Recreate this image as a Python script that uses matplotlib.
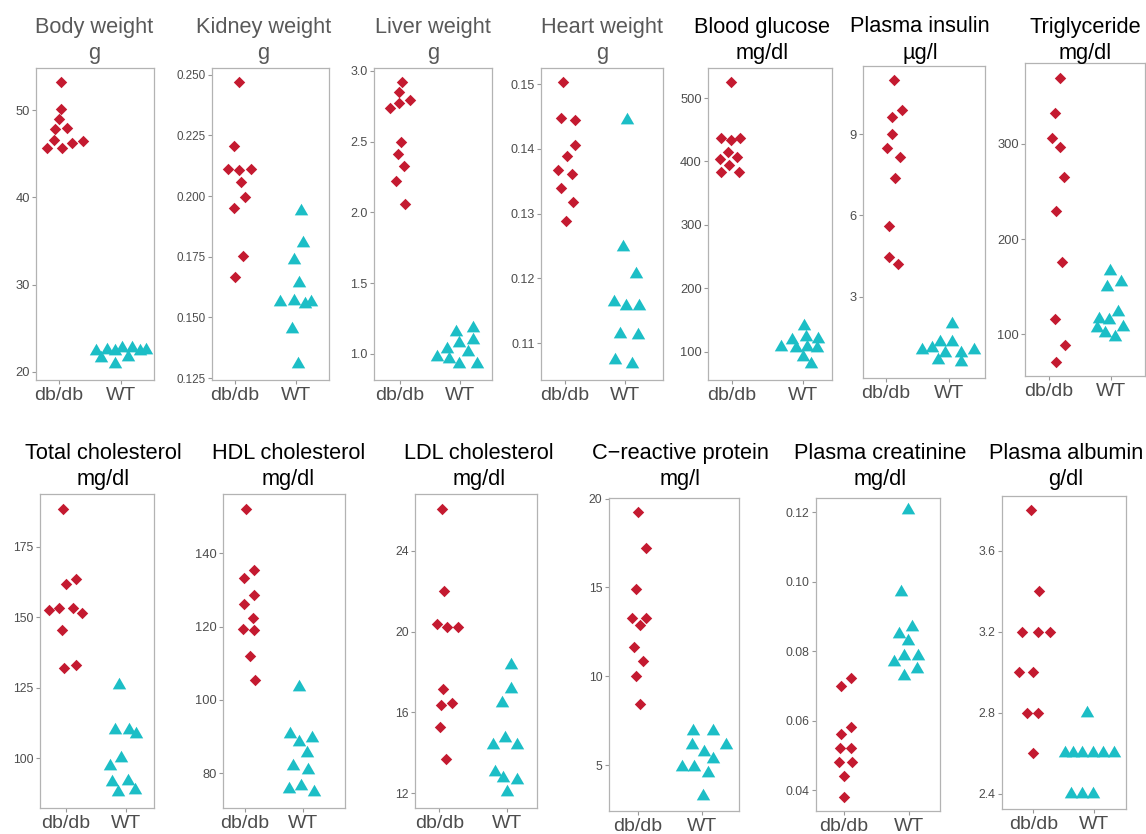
import matplotlib
matplotlib.use("Agg")
import matplotlib.pyplot as plt
import numpy as np
from matplotlib.path import Path

plt.rcParams['font.family'] = ['Liberation Sans', 'DejaVu Sans']

groups = ["db/db", "WT"]

titles = ["Body weight", "Kidney weight", "Liver weight", "Heart weight",
          "Blood glucose", "Plasma insulin", "Triglyceride",
          "Total cholesterol", "HDL cholesterol", "LDL cholesterol",
          "C\u2212reactive protein", "Plasma creatinine", "Plasma albumin"]
units = ["g", "g", "g", "g", "mg/dl", "\u00b5g/l", "mg/dl",
         "mg/dl", "mg/dl", "mg/dl", "mg/l", "mg/dl", "g/dl"]

# measured values, db/db group
body_db = [53.2, 50.1, 49.0, 47.8, 47.9, 46.6, 45.6, 45.7, 46.2, 46.4]
kidney_db = [0.247, 0.2206, 0.211, 0.2107, 0.211, 0.2057, 0.1997, 0.195, 0.1754, 0.1668]
liver_db = [2.922, 2.849, 2.776, 2.736, 2.793, 2.50, 2.41, 2.33, 2.22, 2.061]
heart_db = [0.1503, 0.1447, 0.1445, 0.1406, 0.1389, 0.1367, 0.1361, 0.134, 0.1318, 0.1288]
glucose_db = [524.8, 437.4, 433.8, 437.4, 415.3, 403.3, 407.4, 394.3, 383.8, 383.8]
insulin_db = [10.99, 9.64, 9.87, 8.99, 8.49, 8.16, 7.39, 5.59, 4.47, 4.19]
trig_db = [369, 332.2, 306.6, 297.2, 265.7, 229.9, 176.4, 115.8, 88.9, 71.3]
tc_db = [188.3, 161.9, 163.5, 152.6, 153.2, 153.2, 151.5, 145.5, 132.0, 133.2]
hdl_db = [152.1, 133.4, 135.5, 128.5, 126.3, 122.3, 119.4, 119.1, 112.1, 105.5]
ldl_db = [26.06, 22.02, 20.36, 20.21, 20.24, 17.14, 16.37, 16.48, 15.30, 13.70]
crp_db = [19.25, 17.24, 14.89, 13.26, 13.26, 12.88, 11.66, 10.87, 10.03, 8.43]
creat_db = [0.0701, 0.0722, 0.0582, 0.0563, 0.0522, 0.0522, 0.0482, 0.0482, 0.0440, 0.0381]
alb_db = [3.80, 3.40, 3.20, 3.20, 3.20, 3.00, 3.00, 2.80, 2.80, 2.60]

# measured values, WT group
body_wt = [22.4, 21.6, 22.5, 22.4, 20.9, 22.8, 21.7, 22.8, 22.4, 22.5]
kidney_wt = [0.1938, 0.1805, 0.1737, 0.164, 0.1565, 0.1568, 0.1554, 0.1565, 0.1452, 0.1307]
liver_wt = [1.183, 1.155, 1.096, 1.077, 1.035, 1.012, 0.98, 0.96, 0.925, 0.925]
heart_wt = [0.1444, 0.1249, 0.1207, 0.1163, 0.1158, 0.1157, 0.1114, 0.1113, 0.1074, 0.1067]
glucose_wt = [140.4, 123.6, 118.3, 119.4, 106.8, 105.2, 107.9, 105.2, 91.9, 80.0]
insulin_wt = [1.99, 1.34, 1.31, 1.03, 1.09, 0.94, 0.93, 1.03, 0.66, 0.60]
trig_wt = [166.9, 150.1, 155.4, 123.9, 116.4, 115.1, 106.4, 101.1, 107.4, 97.6]
tc_wt = [125.9, 110.0, 110.0, 108.5, 100.0, 97.1, 91.7, 92.0, 88.2, 88.7]
hdl_wt = [103.4, 90.7, 88.4, 89.5, 85.5, 82.0, 80.9, 75.7, 76.6, 75.0]
ldl_wt = [18.35, 17.14, 16.48, 14.72, 14.39, 14.39, 13.07, 12.78, 12.66, 12.08]
crp_wt = [6.91, 6.91, 6.12, 6.12, 5.71, 5.32, 4.90, 4.90, 4.53, 3.27]
creat_wt = [0.1207, 0.0970, 0.0869, 0.0849, 0.0829, 0.0787, 0.0787, 0.0768, 0.0749, 0.0728]
alb_wt = [2.80, 2.60, 2.60, 2.60, 2.60, 2.60, 2.60, 2.40, 2.40, 2.40]

# horizontal jitter of each point (category units)
body_jdb = [0.03, 0.03, 0.0, -0.06, 0.13, -0.08, -0.19, 0.05, 0.21, 0.38]
body_jwt = [-0.40, -0.32, -0.23, -0.10, -0.10, 0.02, 0.11, 0.17, 0.31, 0.40]
kidney_jdb = [0.07, -0.02, -0.12, 0.06, 0.26, 0.10, 0.16, -0.02, 0.13, 0.0]
kidney_jwt = [0.08, 0.11, -0.03, 0.05, -0.27, -0.03, 0.14, 0.25, -0.07, 0.03]
liver_jdb = [0.04, -0.02, -0.02, -0.16, 0.17, 0.02, -0.03, 0.07, -0.06, 0.08]
liver_jwt = [0.22, -0.06, 0.21, -0.01, -0.21, 0.14, -0.39, -0.18, -0.01, 0.29]
heart_jdb = [-0.03, -0.06, 0.16, 0.16, 0.03, -0.12, 0.12, -0.06, 0.13, 0.01]
heart_jwt = [0.04, -0.04, 0.18, -0.18, 0.01, 0.23, -0.08, 0.22, -0.16, 0.11]
glucose_jdb = [-0.02, -0.15, -0.02, 0.11, -0.06, -0.17, 0.07, -0.04, -0.16, 0.10]
glucose_jwt = [0.01, 0.04, -0.16, 0.21, -0.31, -0.10, 0.05, 0.20, 0.0, 0.11]
insulin_jdb = [0.12, 0.10, 0.25, 0.10, 0.02, 0.22, 0.14, 0.04, 0.04, 0.19]
insulin_jwt = [0.04, 0.05, -0.15, -0.43, -0.27, -0.07, 0.19, 0.40, -0.18, 0.19]
trig_jdb = [0.18, 0.09, 0.05, 0.18, 0.24, 0.11, 0.21, 0.10, 0.26, 0.12]
trig_jwt = [-0.02, -0.07, 0.16, 0.12, -0.20, -0.03, -0.23, -0.10, 0.19, 0.06]
tc_jdb = [-0.05, 0.0, 0.16, -0.28, -0.11, 0.11, 0.27, -0.06, -0.03, 0.17]
tc_jwt = [-0.11, -0.19, 0.05, 0.16, -0.08, -0.27, -0.23, 0.04, -0.13, 0.15]
hdl_jdb = [0.01, -0.01, 0.15, 0.16, -0.02, 0.13, -0.03, 0.16, 0.09, 0.17]
hdl_jwt = [-0.07, -0.22, -0.07, 0.15, 0.07, -0.17, 0.09, -0.25, -0.04, 0.19]
ldl_jdb = [0.04, 0.07, -0.04, 0.11, 0.27, 0.06, 0.03, 0.19, 0.01, 0.10]
ldl_jwt = [0.07, 0.07, -0.07, -0.03, -0.21, 0.15, -0.17, -0.05, 0.16, 0.0]
crp_jdb = [0.0, 0.13, -0.03, -0.09, 0.13, 0.03, -0.05, 0.09, -0.03, 0.04]
crp_jwt = [-0.13, 0.17, -0.15, 0.38, 0.03, 0.17, -0.31, -0.12, 0.10, 0.02]
creat_jdb = [-0.04, 0.10, 0.10, -0.05, -0.06, 0.10, -0.08, 0.13, 0.0, 0.0]
creat_jwt = [-0.02, -0.12, 0.04, -0.15, -0.02, -0.08, 0.14, -0.23, 0.12, -0.08]
alb_jdb = [-0.04, 0.10, -0.18, 0.07, 0.27, -0.23, 0.0, -0.11, 0.08, 0.0]
alb_jwt = [-0.12, -0.47, -0.35, -0.20, -0.01, 0.14, 0.33, -0.38, -0.19, -0.01]

yticks = [[20, 30, 40, 50],
          [0.125, 0.150, 0.175, 0.200, 0.225, 0.250],
          [1.0, 1.5, 2.0, 2.5, 3.0],
          [0.11, 0.12, 0.13, 0.14, 0.15],
          [100, 200, 300, 400, 500],
          [3, 6, 9],
          [100, 200, 300],
          [100, 125, 150, 175],
          [80, 100, 120, 140],
          [12, 16, 20, 24],
          [5, 10, 15, 20],
          [0.04, 0.06, 0.08, 0.10, 0.12],
          [2.4, 2.8, 3.2, 3.6]]
tick_fmt = ["%d", "%.3f", "%.1f", "%.2f", "%d", "%d", "%d",
            "%d", "%d", "%d", "%d", "%.2f", "%.1f"]

db_vals = [body_db, kidney_db, liver_db, heart_db, glucose_db, insulin_db, trig_db,
           tc_db, hdl_db, ldl_db, crp_db, creat_db, alb_db]
wt_vals = [body_wt, kidney_wt, liver_wt, heart_wt, glucose_wt, insulin_wt, trig_wt,
           tc_wt, hdl_wt, ldl_wt, crp_wt, creat_wt, alb_wt]
db_jit = [body_jdb, kidney_jdb, liver_jdb, heart_jdb, glucose_jdb, insulin_jdb, trig_jdb,
          tc_jdb, hdl_jdb, ldl_jdb, crp_jdb, creat_jdb, alb_jdb]
wt_jit = [body_jwt, kidney_jwt, liver_jwt, heart_jwt, glucose_jwt, insulin_jwt, trig_jwt,
          tc_jwt, hdl_jwt, ldl_jwt, crp_jwt, creat_jwt, alb_jwt]

# ---- layout (pixels in a 1146x834 canvas) ----
W, H = 1146, 834
boxes = [(36, 68, 154, 380), (212, 68, 329, 380), (374, 68, 492, 380),
         (541, 68, 663, 380), (708, 68, 832, 380), (863, 66, 985, 377.7),
         (1025, 63.3, 1145, 375.7),
         (40, 494.3, 154, 807.7), (223.3, 494.3, 345, 807.7), (415, 494.3, 537.3, 807.7),
         (608.7, 498.3, 739.3, 811), (815.7, 498.3, 940.3, 811), (1002, 496, 1126.3, 809)]
xlims = [(0.629, 2.532), (0.623, 2.541), (0.567, 2.533), (0.6, 2.633), (0.662, 2.408),
         (0.635, 2.571), (0.613, 2.548), (0.567, 2.467), (0.626, 2.724), (0.639, 2.454),
         (0.547, 2.588), (0.567, 2.475), (0.484, 2.532)]
ylims = [(19.08, 54.81), (0.1242, 0.2528), (0.814, 3.021), (0.1043, 0.1525),
         (55.4, 547.3), (0.011, 11.51), (56.5, 384.8),
         (82.5, 193.5), (70.6, 156.1), (11.29, 26.79), (2.41, 20.02),
         (0.034, 0.124), (2.326, 3.870)]
title_x = [94.3, 263.3, 433.3, 601.7, 762.3, 920, 1085,
           103.3, 288.3, 479.3, 680, 880, 1065.7]
ytick_size = [9.3, 8.4, 9.0, 9.0, 9.3, 9.3, 9.3, 8.8, 9.3, 8.8, 8.8, 8.8, 8.8]

red = "#C41A30"
teal = "#1CBEC6"
tri = Path([(-0.5, -0.2887), (0.5, -0.2887), (0.0, 0.5774), (-0.5, -0.2887)],
           [Path.MOVETO, Path.LINETO, Path.LINETO, Path.CLOSEPOLY])

fig = plt.figure(figsize=(W / 100, H / 100), dpi=100)

for i in range(len(titles)):
    l, t, r, b = boxes[i]
    ax = fig.add_axes([l / W, 1 - b / H, (r - l) / W, (b - t) / H])
    ax.scatter(1 + np.array(db_jit[i]), db_vals[i], marker='D', s=34,
               color=red, linewidths=0, zorder=3)
    ax.scatter(2 + np.array(wt_jit[i]), wt_vals[i], marker=tri, s=125,
               color=teal, linewidths=0, zorder=3)
    ax.set_xlim(*xlims[i])
    ax.set_ylim(*ylims[i])
    ax.set_xticks([1, 2])
    ax.set_xticklabels(groups)
    ax.set_yticks(yticks[i])
    ax.set_yticklabels([tick_fmt[i] % v for v in yticks[i]])
    for sp in ax.spines.values():
        sp.set_color("#B3B3B3")
        sp.set_linewidth(0.9)
    ax.tick_params(axis='y', length=3, width=0.8, color="#999999", pad=1.5,
                   labelsize=ytick_size[i], labelcolor="#4D4D4D")
    ax.tick_params(axis='x', length=3, width=0.8, color="#999999", pad=2,
                   labelsize=14, labelcolor="#4D4D4D")

    tcol = "#595959" if i < 4 else "black"
    base1, base2 = (32.5, 58.5) if i < 7 else (459, 485)
    fig.text(title_x[i] / W, 1 - base1 / H, titles[i], ha='center', va='baseline',
             fontsize=15.7, color=tcol)
    fig.text(title_x[i] / W, 1 - base2 / H, units[i], ha='center', va='baseline',
             fontsize=15.7, color=tcol)

fig.savefig("out.png", dpi=100)
